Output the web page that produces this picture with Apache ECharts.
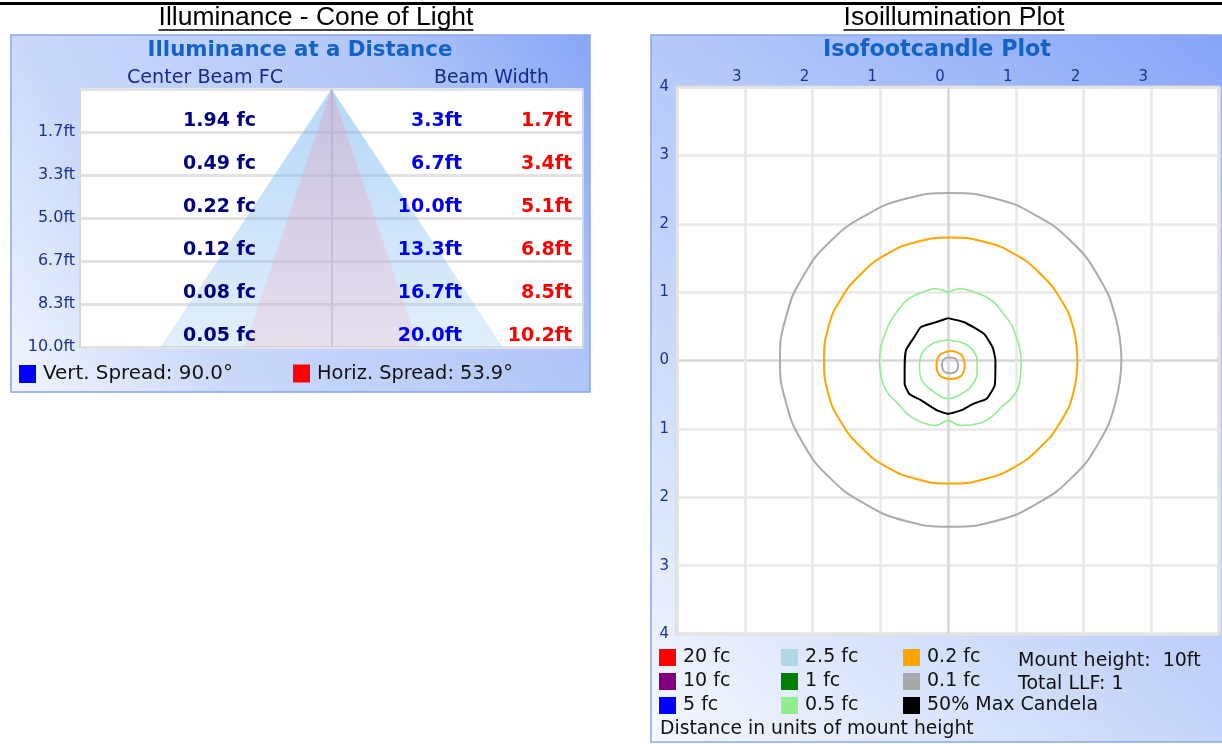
<!DOCTYPE html>
<html><head><meta charset="utf-8">
<script src="https://cdn.jsdelivr.net/npm/echarts@6/dist/echarts.min.js"></script>
<style>html,body{margin:0;padding:0;background:#fff;overflow:hidden}#c{width:1222px;height:744px}</style>
</head><body><div id="c"></div>
<script>
// ---------------- DATA ----------------
// Cone of light table
const rowDistances = [1.7, 3.3, 5.0, 6.7, 8.3, 10.0];
const distanceTickLabels = ['1.7ft', '3.3ft', '5.0ft', '6.7ft', '8.3ft', '10.0ft'];
const centerBeamFc = [1.94, 0.49, 0.22, 0.12, 0.08, 0.05];
const vertBeamWidthFt = [3.3, 6.7, 10.0, 13.3, 16.7, 20.0];
const horizBeamWidthFt = [1.7, 3.4, 5.1, 6.8, 8.5, 10.2];
const vertSpreadDeg = 90.0;
const horizSpreadDeg = 53.9;
const maxDistanceFt = 10.0;

// Isofootcandle plot
const isoXTickLabels = ['', '3', '2', '1', '0', '1', '2', '3', ''];
const isoYTickLabels = ['4', '3', '2', '1', '0', '1', '2', '3', '4'];
const isoLevels = ['20 fc', '10 fc', '5 fc', '2.5 fc', '1 fc', '0.5 fc', '0.2 fc', '0.1 fc', '50% Max Candela'];
const mountHeightFt = 10;
const totalLLF = 1;

// contours, in units of mount height [x, y]
const contour01Outer = [[2.56,0.01],[2.47,0.64],[2.22,1.23],[1.82,1.74],[1.30,2.12],[0.69,2.37],[0.04,2.45],[-0.61,2.37],[-1.22,2.12],[-1.74,1.74],[-2.14,1.23],[-2.39,0.64],[-2.48,0.01],[-2.39,-0.62],[-2.14,-1.21],[-1.74,-1.72],[-1.22,-2.10],[-0.61,-2.35],[0.04,-2.43],[0.69,-2.35],[1.30,-2.10],[1.82,-1.72],[2.22,-1.21],[2.47,-0.62],[2.56,0.01]];
const contour01Inner = [[0.15,-0.07],[0.12,0.02],[0.03,0.045],[-0.06,0.02],[-0.09,-0.07],[-0.06,-0.16],[0.03,-0.185],[0.12,-0.16],[0.15,-0.07]];
const contour02Outer = [[1.91,0],[1.85,0.47],[1.66,0.90],[1.36,1.27],[0.98,1.56],[0.52,1.74],[0.04,1.80],[-0.44,1.74],[-0.90,1.56],[-1.28,1.27],[-1.58,0.90],[-1.77,0.47],[-1.83,0],[-1.77,-0.47],[-1.58,-0.90],[-1.28,-1.27],[-0.90,-1.56],[-0.44,-1.74],[0.04,-1.80],[0.52,-1.74],[0.98,-1.56],[1.36,-1.27],[1.66,-0.90],[1.85,-0.47],[1.91,0]];
const contour02Inner = [[0.25,-0.07],[0.20,0.08],[0.04,0.14],[-0.12,0.08],[-0.17,-0.07],[-0.12,-0.22],[0.04,-0.27],[0.20,-0.22],[0.25,-0.07]];
const contour05Outer = [[0,1.00],[0.18,1.05],[0.36,1.01],[0.52,0.95],[0.69,0.84],[0.82,0.68],[0.94,0.52],[1.01,0.34],[1.06,0.17],[1.08,0],[1.07,-0.20],[1.04,-0.39],[0.94,-0.55],[0.79,-0.68],[0.66,-0.81],[0.52,-0.90],[0.35,-0.94],[0.18,-0.95],[0,-0.88],[-0.18,-0.95],[-0.40,-0.90],[-0.59,-0.79],[-0.74,-0.63],[-0.87,-0.50],[-0.96,-0.34],[-1.00,-0.17],[-1.01,0],[-0.99,0.20],[-0.93,0.39],[-0.85,0.57],[-0.74,0.73],[-0.63,0.86],[-0.50,0.95],[-0.35,1.01],[-0.20,1.05],[0,1.00]];
const contour05Inner = [[0,0.30],[0.21,0.26],[0.35,0.17],[0.43,0.0],[0.43,-0.19],[0.31,-0.41],[0,-0.56],[-0.30,-0.39],[-0.41,-0.22],[-0.42,-0.05],[-0.36,0.14],[-0.20,0.26],[0,0.30]];
const contourMaxCandela50 = [[0,0.62],[0.24,0.56],[0.53,0.39],[0.66,0.19],[0.70,0],[0.69,-0.36],[0.57,-0.56],[0.38,-0.63],[0.19,-0.73],[0,-0.78],[-0.16,-0.73],[-0.40,-0.58],[-0.57,-0.49],[-0.64,-0.34],[-0.64,-0.10],[-0.62,0.15],[-0.50,0.34],[-0.40,0.49],[-0.18,0.56],[0,0.62]];

// ---------------- STYLE ----------------
const isoLevelColors = ['#ff0000', '#800080', '#0000ff', '#add8e6', '#008000', '#90ee90', '#ffa500', '#a9a9a9', '#000000'];
const isoContourSets = [
  { level: '0.1 fc', rings: [contour01Outer, contour01Inner], width: 2, smooth: [0.5, 0.3], color: '#ababab' },
  { level: '0.2 fc', rings: [contour02Outer, contour02Inner], width: 2, smooth: [0.5, 0.3] },
  { level: '0.5 fc', rings: [contour05Outer, contour05Inner], width: 1.6, smooth: [0.3, 0.3] },
  { level: '50% Max Candela', rings: [contourMaxCandela50], width: 2, smooth: [0.15] }
];
const NAVY = '#1a3296';
const FONT = '"DejaVu Sans"';

const mctx = document.createElement('canvas').getContext('2d');
function fit(text, family, weight, target) {
  mctx.font = weight + ' 100px ' + family;
  return 100 * target / mctx.measureText(text).width;
}

const chart = echarts.init(document.getElementById('c'), null, { renderer: 'canvas' });

function rowIndexAt(v) {
  for (let i = 0; i < rowDistances.length; i++) if (Math.abs(rowDistances[i] - v) < 0.2) return i;
  return -1;
}
const rowInterval = maxDistanceFt / rowDistances.length;

function rowAxis(offset, fmt, color) {
  return {
    type: 'value', gridIndex: 0, inverse: true, min: 0, max: maxDistanceFt, interval: rowInterval,
    position: 'left', offset: offset, z: 10,
    axisLine: { show: false }, axisTick: { show: false }, splitLine: { show: false },
    axisLabel: {
      show: true, margin: 0, showMinLabel: true, showMaxLabel: true,
      color: color, fontFamily: FONT, fontWeight: 'bold', fontSize: 19,
      verticalAlign: 'bottom', lineHeight: 21,
      formatter: function (v) { const i = rowIndexAt(v); return i < 0 ? '' : fmt(i); }
    }
  };
}

const coneGrad = (c0, c1) => ({ type: 'linear', x: 0, y: 0, x2: 0, y2: 1, colorStops: [{ offset: 0, color: c0 }, { offset: 1, color: c1 }] });

function coneSeries(name, widths, legendColor, grad) {
  return {
    type: 'custom', name: name, xAxisIndex: 0, yAxisIndex: 0, z: 2,
    itemStyle: { color: legendColor },
    data: [[widths[widths.length - 1] / 2, maxDistanceFt]],
    renderItem: function (params, api) {
      const hw = api.value(0), d = api.value(1);
      return {
        type: 'polygon',
        shape: { points: [api.coord([-hw, d]), api.coord([0, 0]), api.coord([hw, d])] },
        style: { fill: grad }
      };
    }
  };
}

const vertName = 'Vert. Spread: ' + vertSpreadDeg.toFixed(1) + '°';
const horizName = 'Horiz. Spread: ' + horizSpreadDeg.toFixed(1) + '°';

const series = [
  coneSeries(vertName, vertBeamWidthFt, '#0000ff', coneGrad('rgba(109,177,241,0.5)', 'rgba(109,177,241,0.2)')),
  coneSeries(horizName, horizBeamWidthFt, '#ff0000', coneGrad('rgba(228,150,178,0.36)', 'rgba(250,172,190,0.25)'))
];

isoLevels.forEach(function (lvl, li) {
  const set = isoContourSets.find(s => s.level === lvl);
  const rings = set ? set.rings : [[]];
  rings.forEach(function (ring, ri) {
    const col = (set && set.color) || isoLevelColors[li];
    series.push({
      type: 'line', name: lvl, xAxisIndex: 1, yAxisIndex: 4, z: 3,
      data: ring, showSymbol: false, symbol: 'none', smooth: set ? set.smooth[ri] : false,
      lineStyle: { color: col, width: set ? set.width : 2 },
      itemStyle: { color: isoLevelColors[li] }
    });
  });
});

function txt(text, x, y, opt) {
  return {
    type: 'text', x: x, y: y, z: 20,
    style: Object.assign({ text: text, align: 'left', verticalAlign: 'middle', fill: '#111', fontFamily: FONT, fontSize: 19 }, opt)
  };
}

const headL = 'Illuminance - Cone of Light';
const headR = 'Isoillumination Plot';
const headLSize = fit(headL, '"Liberation Sans"', 'normal', 315);
const headRSize = fit(headR, '"Liberation Sans"', 'normal', 221);
const titleL = 'Illuminance at a Distance';
const titleR = 'Isofootcandle Plot';

const graphic = [
  { type: 'rect', z: -10, shape: { x: 0, y: 2, width: 1222, height: 3 }, style: { fill: '#000' } },
  { type: 'rect', z: -10, shape: { x: 11, y: 35, width: 579, height: 357 },
    style: { fill: { type: 'linear', x: 0, y: 1, x2: 1, y2: 0, colorStops: [{ offset: 0, color: '#f2f5ff' }, { offset: 0.28, color: '#cad9fb' }, { offset: 0.72, color: '#b2c7f8' }, { offset: 1, color: '#86a6f7' }] }, stroke: '#88a7f0', lineWidth: 1.5 } },
  { type: 'rect', z: -10, shape: { x: 651, y: 35, width: 600, height: 707 },
    style: { fill: { type: 'linear', x: 0, y: 1, x2: 1, y2: 0, colorStops: [{ offset: 0, color: '#f6f8ff' }, { offset: 0.42, color: '#c2d3fa' }, { offset: 0.6, color: '#b4c8f9' }, { offset: 1, color: '#84a4f7' }] }, stroke: '#88a7f0', lineWidth: 1.5 } },
  txt(headL, 316, 18, { align: 'center', fontFamily: '"Liberation Sans"', fontSize: headLSize, fill: '#000' }),
  { type: 'line', z: 20, shape: { x1: 316 - 157.5, y1: 30, x2: 316 + 157.5, y2: 30 }, style: { stroke: '#000', lineWidth: 1.5 } },
  txt(headR, 954, 18, { align: 'center', fontFamily: '"Liberation Sans"', fontSize: headRSize, fill: '#000' }),
  { type: 'line', z: 20, shape: { x1: 954 - 110.5, y1: 30, x2: 954 + 110.5, y2: 30 }, style: { stroke: '#000', lineWidth: 1.5 } },
  txt(titleL, 300, 50, { align: 'center', fontWeight: 'bold', fontSize: fit(titleL, FONT, 'bold', 305), fill: '#1262c8' }),
  txt(titleR, 937, 50, { align: 'center', fontWeight: 'bold', fontSize: fit(titleR, FONT, 'bold', 228), fill: '#1262c8' }),
  txt('Center Beam FC', 127, 78, { fontSize: fit('Center Beam FC', FONT, 'normal', 156), fill: '#16288c' }),
  txt('Beam Width', 434, 78, { fontSize: fit('Beam Width', FONT, 'normal', 115), fill: '#16288c' }),
  txt('Mount height:  ' + mountHeightFt + 'ft', 1018, 661, {}),
  txt('Total LLF: ' + totalLLF, 1018, 684, {}),
  txt('Distance in units of mount height', 660, 729, { fontSize: fit('Distance in units of mount height', FONT, 'normal', 314) })
];

const legendText = { fontFamily: FONT, fontSize: 19, color: '#111', padding: [0, 0, 0, 2] };
function isoLegend(left, names) {
  return { orient: 'vertical', left: left, top: 648, itemWidth: 17, itemHeight: 17, itemGap: 5, icon: 'rect',
    selectedMode: false, data: names, textStyle: legendText, padding: 0 };
}

const isoSplitColors = ['#e4e4e4', '#e8e8e8', '#e8e8e8', '#e8e8e8', '#d6d6d6', '#e8e8e8', '#e8e8e8', '#e8e8e8', '#e4e4e4'];

const option = {
  animation: false,
  backgroundColor: '#ffffff',
  graphic: graphic,
  legend: [
    { left: 19, top: 364, itemWidth: 17, itemHeight: 18, icon: 'rect', selectedMode: false, padding: 0, data: [vertName], textStyle: Object.assign({}, legendText, { fontSize: fit(vertName, FONT, 'normal', 190) }) },
    { left: 293, top: 364, itemWidth: 17, itemHeight: 18, icon: 'rect', selectedMode: false, padding: 0, data: [horizName], textStyle: Object.assign({}, legendText, { fontSize: fit(horizName, FONT, 'normal', 196) }) },
    isoLegend(659, isoLevels.slice(0, 3)),
    isoLegend(781, isoLevels.slice(3, 6)),
    isoLegend(903, isoLevels.slice(6, 9))
  ],
  grid: [
    { left: 80, top: 89, width: 503, height: 258, show: true, backgroundColor: '#ffffff', borderColor: '#d2d2d2', borderWidth: 2 },
    { left: 677, top: 87, width: 549, height: 547, show: true, backgroundColor: '#ffffff', borderColor: '#d6d6d6', borderWidth: 3 }
  ],
  xAxis: [
    { type: 'value', gridIndex: 0, min: -14.7, max: 14.7, interval: 14.7,
      axisLine: { show: false }, axisTick: { show: false }, axisLabel: { show: false },
      splitLine: { show: true, lineStyle: { color: '#d6d6de', width: 2 } } },
    { type: 'value', gridIndex: 1, min: -4, max: 4, interval: 1, position: 'top',
      axisLine: { show: false }, axisTick: { show: false },
      axisLabel: { color: NAVY, fontFamily: FONT, fontSize: 15, margin: 2, padding: [0, 16, 0, 0], showMinLabel: true, showMaxLabel: true,
        formatter: v => isoXTickLabels[Math.round(v) + 4] },
      splitLine: { show: true, lineStyle: { color: isoSplitColors, width: 2.5 } } }
  ],
  yAxis: [
    { type: 'value', gridIndex: 0, inverse: true, min: 0, max: maxDistanceFt, interval: rowInterval,
      axisLine: { show: false }, axisTick: { show: false },
      axisLabel: { color: NAVY, fontFamily: FONT, fontSize: 16, margin: 5, showMinLabel: true, showMaxLabel: true, padding: [3, 0, 0, 0],
        formatter: function (v) { const i = rowIndexAt(v); return i < 0 ? '' : distanceTickLabels[i]; } },
      splitLine: { show: true, lineStyle: { color: '#e2e2e2', width: 3 } } },
    rowAxis(-176, i => centerBeamFc[i].toFixed(2) + ' fc', '#00007e'),
    rowAxis(-382, i => vertBeamWidthFt[i].toFixed(1) + 'ft', '#0000f0'),
    rowAxis(-492, i => horizBeamWidthFt[i].toFixed(1) + 'ft', '#ff0000'),
    { type: 'value', gridIndex: 1, min: -4, max: 4, interval: 1,
      axisLine: { show: false }, axisTick: { show: false },
      axisLabel: { color: NAVY, fontFamily: FONT, fontSize: 15, margin: 8, showMinLabel: true, showMaxLabel: true,
        formatter: v => isoYTickLabels[Math.round(v) + 4] },
      splitLine: { show: true, lineStyle: { color: isoSplitColors, width: 2.5 } } }
  ],
  series: series
};
chart.setOption(option);
</script>
</body></html>
